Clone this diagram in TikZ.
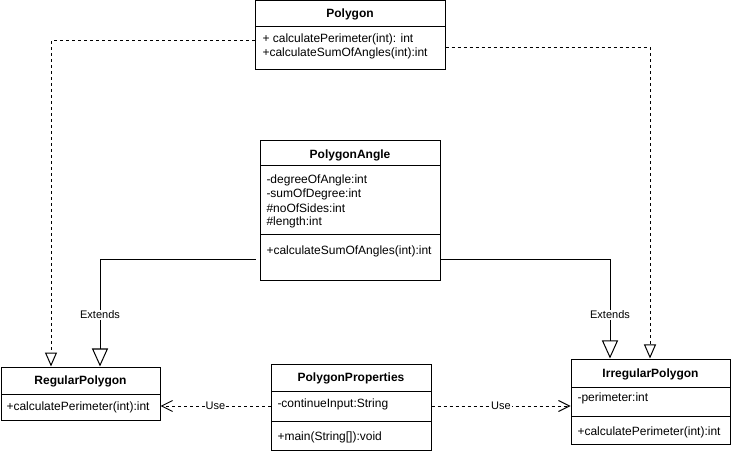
\documentclass[tikz,border=0pt]{standalone}
\usepackage{fontspec}
\setmainfont{Liberation Sans}
\usetikzlibrary{arrows.meta}
\begin{document}
\begin{tikzpicture}[x=1pt,y=-1pt,line width=1pt,
  classbox/.style={draw,rectangle,inner sep=0pt},
  title/.style={font=\fontsize{12}{14}\selectfont\bfseries,inner sep=0pt},
  member/.style={font=\fontsize{12}{14}\selectfont,inner sep=0pt,anchor=west},
  lbl/.style={font=\fontsize{11}{13}\selectfont,fill=white,inner sep=1pt},
  realize/.style={dash pattern=on 3pt off 3pt,-{Triangle[open,length=14pt,width=12pt]}},
  inherit/.style={-{Triangle[open,length=18pt,width=16pt]}},
  uses/.style={dash pattern=on 3pt off 3pt,-{Straight Barb[length=11pt,width=11pt]}}]
\useasboundingbox (0,0) rectangle (731,454);

% Polygon
\node[classbox,minimum width=190pt,minimum height=69pt] (poly) at (350,35.5) {};
\draw (255,27) -- (445,27);
\node[title] (polyT) at (350,14) {Polygon};
\node[member] (polyM1) at (262,39) {+ calculatePerimeter(int): int};
\node[member] (polyM2) at (262,53) {+calculateSumOfAngles(int):int};

% PolygonAngle
\node[classbox,minimum width=180pt,minimum height=140pt] (ang) at (350,211) {};
\draw (260,166) -- (440,166);
\draw (260,235) -- (440,235);
\node[title] (angT) at (350,155) {PolygonAngle};
\node[member] (angA1) at (266,180) {-degreeOfAngle:int};
\node[member] (angA2) at (266,194) {-sumOfDegree:int};
\node[member] (angA3) at (266,208) {\#noOfSides:int};
\node[member] (angA4) at (266,222) {\#length:int};
\node[member] (angM1) at (266,251) {+calculateSumOfAngles(int):int};

% RegularPolygon
\node[classbox,minimum width=159pt,minimum height=53pt] (reg) at (80.5,393.5) {};
\draw (1,394) -- (160,394);
\node[title] (regT) at (80.5,381) {RegularPolygon};
\node[member] (regM1) at (6,407) {+calculatePerimeter(int):int};

% PolygonProperties
\node[classbox,minimum width=160pt,minimum height=86pt] (props) at (351,407) {};
\draw (271,391) -- (431,391);
\draw (271,421) -- (431,421);
\node[title] (propsT) at (351,378) {PolygonProperties};
\node[member] (propsA1) at (277,404) {-continueInput:String};
\node[member] (propsM1) at (277,437) {+main(String[]):void};

% IrregularPolygon
\node[classbox,minimum width=159pt,minimum height=85pt] (irr) at (650.5,401.5) {};
\draw (571,387) -- (730,387);
\draw (571,416) -- (730,416);
\node[title] (irrT) at (650.5,374) {IrregularPolygon};
\node[member] (irrA1) at (577,398) {-perimeter:int};
\node[member] (irrM1) at (577,432) {+calculatePerimeter(int):int};

% Realizations of Polygon
\draw[realize] ([yshift=-5.5pt]poly.west) -| ([xshift=-29.5pt]reg.north);
\draw[realize] ([yshift=-12.5pt]poly.east) -| ([xshift=-0.5pt]irr.north);

% Generalizations from PolygonAngle
\draw[inherit] ([xshift=-4pt,yshift=-49pt]ang.west) -| ([xshift=19.5pt]reg.north)
  node[lbl,pos=0.757] {Extends};
\draw[inherit] ([yshift=-49pt]ang.east) -| ([xshift=-40.5pt]irr.north)
  node[lbl,pos=0.778] {Extends};

% Dependencies of PolygonProperties
\draw[uses] ([yshift=1pt]props.west) -- ([yshift=1pt]props.west -| reg.east)
  node[lbl,midway] {Use};
\draw[uses] ([yshift=1pt]props.east) -- ([yshift=1pt]props.east -| irr.west)
  node[lbl,midway] {Use};
\end{tikzpicture}
\end{document}
